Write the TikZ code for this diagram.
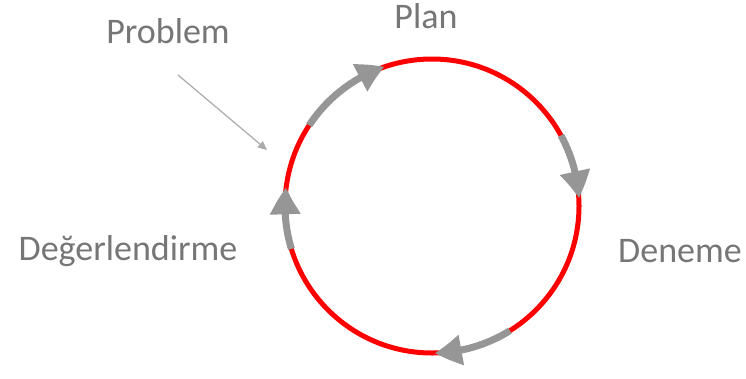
\documentclass[tikz,border=0pt]{standalone}
\usepackage{fontspec}
\setmainfont{Carlito}
\usetikzlibrary{arrows.meta,bending}
\definecolor{txtgray}{RGB}{118,118,118}
\definecolor{arrgray}{RGB}{150,150,150}
\definecolor{thingray}{RGB}{170,170,170}
\definecolor{ringred}{RGB}{255,0,0}
\tikzset{
  lbl/.style={anchor=base, text=txtgray, font=\fontsize{36}{40}\selectfont, inner sep=0pt},
  ring/.style={draw=ringred, line width=5pt},
  flow/.style={draw=arrgray, line width=7pt, -{Triangle[length=27pt,width=29pt,bend]}},
  hint/.style={draw=thingray, line width=1.2pt, -{Triangle[length=9pt,width=8pt]}}
}
\begin{document}
\begin{tikzpicture}[x=1pt,y=-1pt]
\useasboundingbox (0,0) rectangle (746,378);
\coordinate (c) at (432,206);
\node[lbl] (plan) at (426,28) {Plan};
\node[lbl] (problem) at (168,43) {Problem};
\node[lbl] (deg) at (128,260) {Değerlendirme};
\node[lbl] (den) at (680,262) {Deneme};
\draw[ring] (c) circle[radius=147];
\draw[flow] ([shift={(-146.7:147)}]c) arc[start angle=-146.7, end angle=-108.8, radius=147];
\draw[flow] ([shift={(-28.7:147)}]c) arc[start angle=-28.7, end angle=-3, radius=147];
\draw[flow] ([shift={(58:147)}]c) arc[start angle=58, end angle=89, radius=147];
\draw[flow] ([shift={(163:147)}]c) arc[start angle=163, end angle=187.3, radius=147];
\coordinate (p1) at (178,75);
\coordinate (p2) at (267,150);
\draw[hint] (p1) -- (p2);
\end{tikzpicture}
\end{document}
